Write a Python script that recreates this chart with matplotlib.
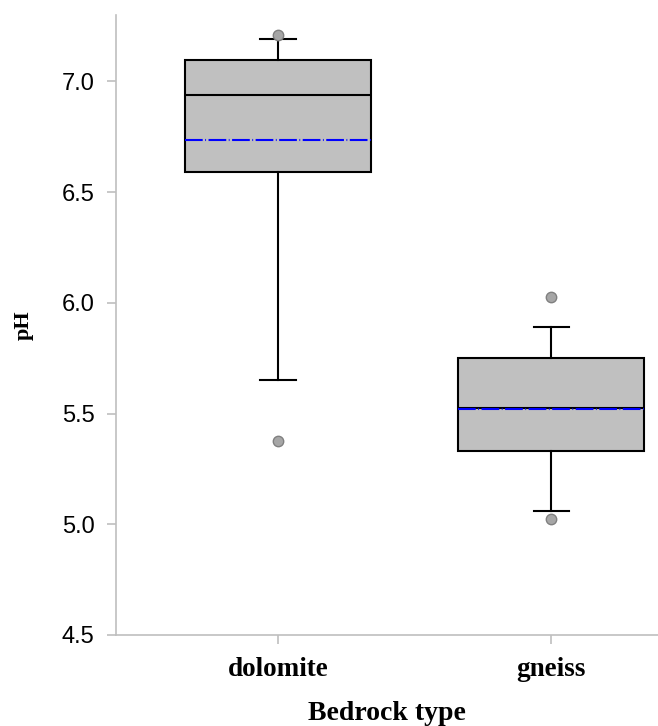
import matplotlib
matplotlib.use("Agg")
import matplotlib.pyplot as plt

categories = ["dolomite", "gneiss"]
q1 = [6.59, 5.33]
q3 = [7.095, 5.75]
medians = [6.94, 5.527]
means = [6.737, 5.522]
whisker_low = [5.65, 5.06]
whisker_high = [7.19, 5.89]
outliers = [[7.21, 5.375], [6.025, 5.025]]

fig = plt.figure(figsize=(6.58, 7.26), dpi=100)
ax = fig.add_axes([116/658, 1 - 635/726, 1 - 116/658, (635 - 15)/726])

stats = []
for i, c in enumerate(categories):
    stats.append(dict(label=c, med=medians[i], q1=q1[i], q3=q3[i],
                      whislo=whisker_low[i], whishi=whisker_high[i],
                      mean=means[i], fliers=outliers[i]))

ax.bxp(stats, positions=[0, 1], widths=0.68, capwidths=0.13,
       patch_artist=True, showmeans=True, meanline=True,
       boxprops=dict(facecolor="#c0c0c0", edgecolor="black", linewidth=1.5),
       medianprops=dict(color="black", linewidth=1.5),
       meanprops=dict(color="#0000ff", linewidth=1.5,
                      linestyle=(0, (8.5, 1.2, 0.4, 1.2))),
       whiskerprops=dict(color="black", linewidth=1.5),
       capprops=dict(color="black", linewidth=1.5),
       flierprops=dict(marker="o", markerfacecolor="#a6a6a6",
                       markeredgecolor="#808080", markersize=7.5,
                       markeredgewidth=1.0))

ax.set_xlim(-0.593, 1.39)
ax.set_ylim(4.5, 7.30)
ax.set_yticks([4.5, 5.0, 5.5, 6.0, 6.5, 7.0])
ax.set_yticklabels(["4.5", "5.0", "5.5", "6.0", "6.5", "7.0"],
                   fontfamily="Liberation Sans", fontsize=17)
ax.set_xticks([0, 1])
ax.set_xticklabels(categories, fontfamily="Liberation Serif",
                   fontweight="bold", fontsize=19.5)

for s in ["top", "right"]:
    ax.spines[s].set_visible(False)
for s in ["left", "bottom"]:
    ax.spines[s].set_color("#bfbfbf")
    ax.spines[s].set_linewidth(1.2)
ax.tick_params(axis="both", colors="#bfbfbf", length=6.5, width=1.2,
               labelcolor="black", direction="out")
ax.tick_params(axis="x", pad=9)
ax.tick_params(axis="y", pad=9)

ax.set_xlabel("Bedrock type", fontfamily="Liberation Serif",
              fontweight="bold", fontsize=20, labelpad=14)
ax.set_ylabel("pH", fontfamily="Liberation Serif",
              fontweight="bold", fontsize=16, labelpad=20)

fig.savefig("out.png", dpi=100)
